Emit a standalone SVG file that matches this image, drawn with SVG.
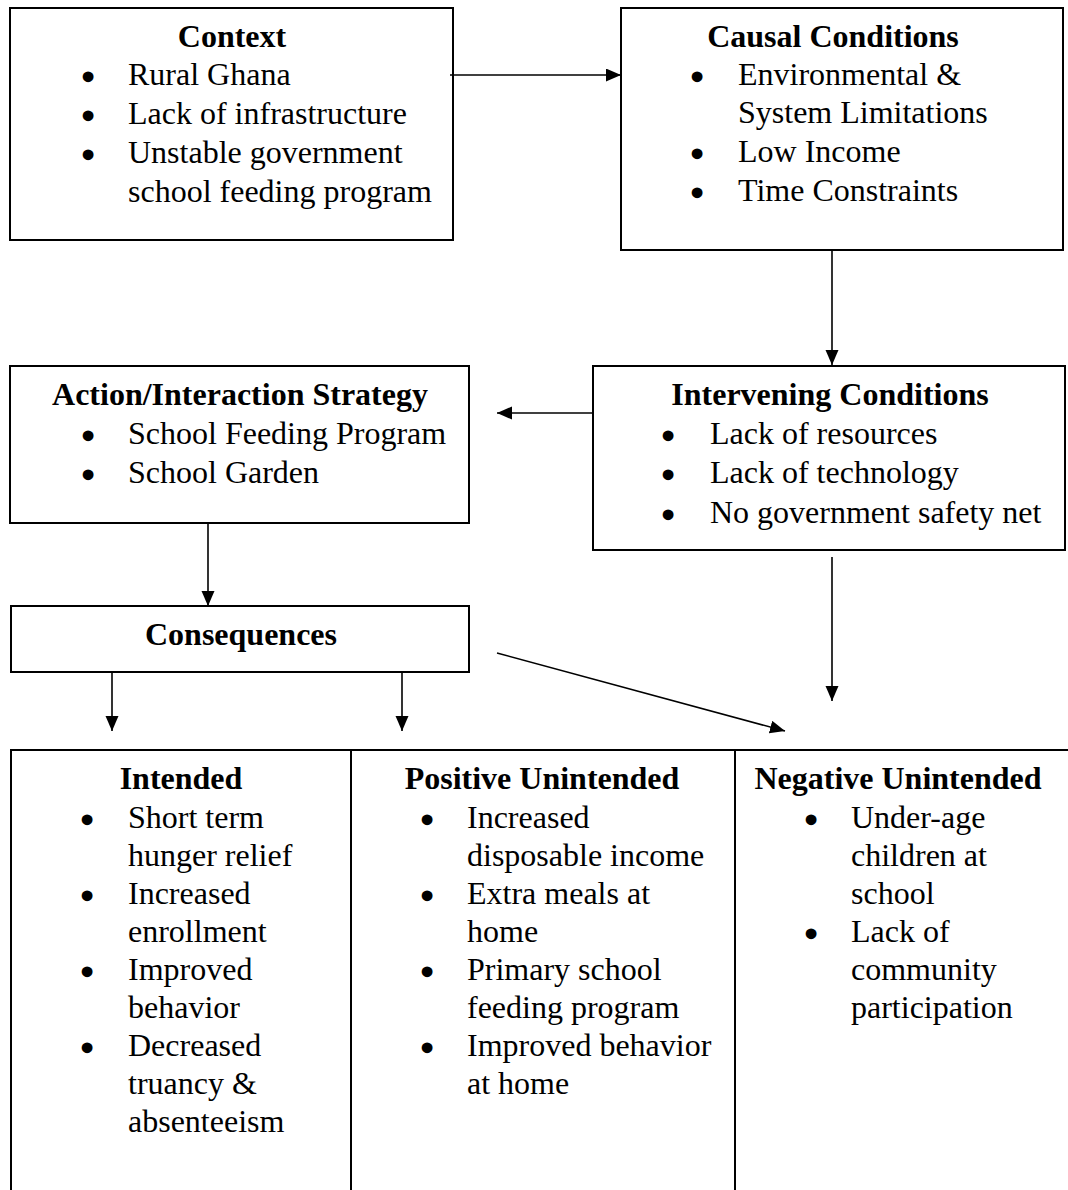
<svg xmlns="http://www.w3.org/2000/svg" width="1068" height="1190" viewBox="0 0 1068 1190">
<defs>
<style>
text{font-family:"Liberation Serif","Times New Roman",serif;font-size:32px;fill:#000}
.h{font-weight:bold;text-anchor:middle}
.b{text-anchor:middle;stroke:#000;stroke-width:3.2}
.box{fill:#fff;stroke:#000;stroke-width:2}
.ln{stroke:#000;stroke-width:2;fill:none}
.c{stroke:#000;stroke-width:1.6;fill:none;marker-end:url(#ah)}
</style>
<marker id="ah" markerUnits="userSpaceOnUse" markerWidth="17" markerHeight="14" refX="15" refY="6.5" orient="auto">
<path d="M0,0 L15,6.5 L0,13 Z" fill="#000"/>
</marker>
</defs>
<rect width="1068" height="1190" fill="#fff"/>

<g id="context">
<rect class="box" x="10" y="8" width="443" height="232"/>
<text class="h" x="232" y="47">Context</text>
<text class="b" x="88" y="88">•</text><text x="128" y="85">Rural Ghana</text>
<text class="b" x="88" y="127">•</text><text x="128" y="124">Lack of infrastructure</text>
<text class="b" x="88" y="166">•</text><text x="128" y="163">Unstable government</text>
<text x="128" y="202">school feeding program</text>
</g>

<g id="causal">
<rect class="box" x="621" y="8" width="442" height="242"/>
<text class="h" x="833" y="47">Causal Conditions</text>
<text class="b" x="697" y="88">•</text><text x="738" y="85">Environmental &amp;</text>
<text x="738" y="123">System Limitations</text>
<text class="b" x="697" y="165">•</text><text x="738" y="162">Low Income</text>
<text class="b" x="697" y="204">•</text><text x="738" y="201">Time Constraints</text>
</g>

<g id="action">
<rect class="box" x="10" y="366" width="459" height="157"/>
<text class="h" x="240" y="405">Action/Interaction Strategy</text>
<text class="b" x="88" y="447">•</text><text x="128" y="444">School Feeding Program</text>
<text class="b" x="88" y="486">•</text><text x="128" y="483">School Garden</text>
</g>

<g id="intervening">
<rect class="box" x="593" y="366" width="472" height="184"/>
<text class="h" x="830" y="405">Intervening Conditions</text>
<text class="b" x="668" y="447">•</text><text x="710" y="444">Lack of resources</text>
<text class="b" x="668" y="486">•</text><text x="710" y="483">Lack of technology</text>
<text class="b" x="668" y="526">•</text><text x="710" y="523">No government safety net</text>
</g>

<g id="consequences">
<rect class="box" x="11" y="606" width="458" height="66"/>
<text class="h" x="241" y="645">Consequences</text>
</g>

<g id="table">
<path class="ln" d="M10,750 H1068 M11,750 V1190 M351,750 V1190 M735,750 V1190"/>
</g>

<g id="intended">
<text class="h" x="181" y="789">Intended</text>
<text class="b" x="87" y="831">•</text><text x="128" y="828">Short term</text>
<text x="128" y="866">hunger relief</text>
<text class="b" x="87" y="907">•</text><text x="128" y="904">Increased</text>
<text x="128" y="942">enrollment</text>
<text class="b" x="87" y="983">•</text><text x="128" y="980">Improved</text>
<text x="128" y="1018">behavior</text>
<text class="b" x="87" y="1059">•</text><text x="128" y="1056">Decreased</text>
<text x="128" y="1094">truancy &amp;</text>
<text x="128" y="1132">absenteeism</text>
</g>

<g id="positive">
<text class="h" x="542" y="789">Positive Unintended</text>
<text class="b" x="427" y="831">•</text><text x="467" y="828">Increased</text>
<text x="467" y="866">disposable income</text>
<text class="b" x="427" y="907">•</text><text x="467" y="904">Extra meals at</text>
<text x="467" y="942">home</text>
<text class="b" x="427" y="983">•</text><text x="467" y="980">Primary school</text>
<text x="467" y="1018">feeding program</text>
<text class="b" x="427" y="1059">•</text><text x="467" y="1056">Improved behavior</text>
<text x="467" y="1094">at home</text>
</g>

<g id="negative">
<text class="h" x="898" y="789">Negative Unintended</text>
<text class="b" x="811" y="831">•</text><text x="851" y="828">Under-age</text>
<text x="851" y="866">children at</text>
<text x="851" y="904">school</text>
<text class="b" x="811" y="945">•</text><text x="851" y="942">Lack of</text>
<text x="851" y="980">community</text>
<text x="851" y="1018">participation</text>
</g>

<g id="connectors">
<line class="c" x1="450" y1="75" x2="621" y2="75"/>
<line class="c" x1="832" y1="250" x2="832" y2="365"/>
<line class="c" x1="593" y1="413" x2="497" y2="413"/>
<line class="c" x1="208" y1="523" x2="208" y2="606"/>
<line class="c" x1="112" y1="672" x2="112" y2="731"/>
<line class="c" x1="402" y1="672" x2="402" y2="731"/>
<line class="c" x1="497" y1="653" x2="785" y2="731"/>
<line class="c" x1="832" y1="557" x2="832" y2="701"/>
</g>
</svg>
